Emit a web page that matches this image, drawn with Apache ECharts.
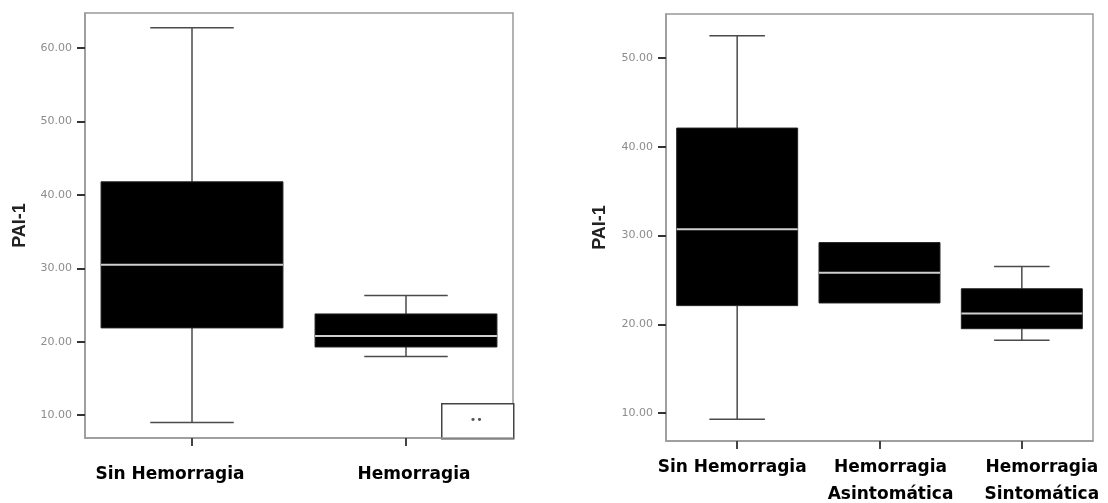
<!DOCTYPE html>
<html>
<head>
<meta charset="utf-8">
<script src="https://cdn.jsdelivr.net/npm/echarts@6/dist/echarts.min.js"></script>
<style>html,body{margin:0;padding:0;background:#fff;}#c{width:1108px;height:503px;}</style>
</head>
<body>
<div id="c"></div>
<script>
// ---- data ----
const leftCategories = ['Sin Hemorragia', 'Hemorragia'];
// [min, Q1, median, Q3, max]
const leftSinHemorragia = [9.0, 21.9, 30.5, 41.8, 62.8];
const leftHemorragia = [18.0, 19.3, 20.8, 23.8, 26.3];

const rightCategories = ['Sin Hemorragia', 'Hemorragia\nAsintomática', 'Hemorragia\nSintomática'];
const rightSinHemorragia = [9.3, 22.1, 30.7, 42.1, 52.5];
const rightAsintomatica = [22.4, 22.4, 25.8, 29.2, 29.2];
const rightSintomatica = [18.2, 19.5, 21.2, 24.0, 26.5];

const leftTicks = [10, 20, 30, 40, 50, 60];
const rightTicks = [10, 20, 30, 40, 50];
const yName = 'PAI-1';

// ---- build ----
const leftData = [leftSinHemorragia, leftHemorragia].map((d, i) => [i].concat(d));
const rightData = [rightSinHemorragia, rightAsintomatica, rightSintomatica].map((d, i) => [i].concat(d));

function renderBox(params, api) {
  const x = api.value(0);
  const lo = api.value(1), q1 = api.value(2), med = api.value(3), q3 = api.value(4), hi = api.value(5);
  const band = api.size([1, 0])[0];
  const bw = band * 0.85, cw = band * 0.39;
  const pLo = api.coord([x, lo]), pQ1 = api.coord([x, q1]), pMed = api.coord([x, med]),
        pQ3 = api.coord([x, q3]), pHi = api.coord([x, hi]);
  const cx = pMed[0];
  const wStyle = { stroke: '#4a4a4a', lineWidth: 1.5 };
  const children = [];
  if (hi > q3) {
    children.push({ type: 'line', shape: { x1: cx, y1: pHi[1], x2: cx, y2: pQ3[1] }, style: wStyle });
    children.push({ type: 'line', shape: { x1: cx - cw / 2, y1: pHi[1], x2: cx + cw / 2, y2: pHi[1] }, style: wStyle });
  }
  if (lo < q1) {
    children.push({ type: 'line', shape: { x1: cx, y1: pQ1[1], x2: cx, y2: pLo[1] }, style: wStyle });
    children.push({ type: 'line', shape: { x1: cx - cw / 2, y1: pLo[1], x2: cx + cw / 2, y2: pLo[1] }, style: wStyle });
  }
  children.push({ type: 'rect', shape: { x: cx - bw / 2, y: pQ3[1], width: bw, height: pQ1[1] - pQ3[1] },
    style: { fill: '#000', stroke: '#222', lineWidth: 1 } });
  children.push({ type: 'line', shape: { x1: cx - bw / 2, y1: pMed[1], x2: cx + bw / 2, y2: pMed[1] },
    style: { stroke: '#cfcfcf', lineWidth: 2 } });
  return { type: 'group', children: children };
}

const yLabel = {
  fontFamily: 'DejaVu Sans', fontSize: 11, color: '#8c8c8c', margin: 13,
  formatter: v => Number(v).toFixed(2)
};
const yTick = { show: true, length: 8, lineStyle: { color: '#333', width: 2 } };
const nameStyle = { fontFamily: 'Liberation Sans', fontWeight: 'bold', fontSize: 18, color: '#222' };

const leftShift = [{ padding: [0, 44, 0, 0] }, { padding: [0, 0, 0, 16] }];
const rightShift = [{ padding: [0, 10, 0, 0] }, { padding: [0, 0, 0, 22] }, { padding: [0, 0, 0, 40] }];

function richFor(shifts, lh) {
  const r = {};
  shifts.forEach((s, i) => {
    r['s' + i] = Object.assign({ fontFamily: 'DejaVu Sans', fontWeight: 'bold', fontSize: 17, color: '#000', lineHeight: lh, align: 'center' }, s);
  });
  return r;
}

const option = {
  animation: false,
  backgroundColor: '#fff',
  grid: [
    { left: 85, top: 13, width: 428, height: 425, show: true, borderColor: '#999', borderWidth: 1.5, backgroundColor: '#fff' },
    { left: 666, top: 14, width: 427, height: 427, show: true, borderColor: '#999', borderWidth: 1.5, backgroundColor: '#fff' }
  ],
  xAxis: [
    {
      type: 'category', gridIndex: 0, data: leftCategories, boundaryGap: true,
      axisLine: { show: true, lineStyle: { color: '#999', width: 1.5 } },
      axisTick: { show: true, alignWithLabel: true, length: 8, lineStyle: { color: '#444', width: 2 } },
      axisLabel: {
        interval: 0, margin: 27,
        formatter: (v, i) => '{s' + i + '|' + v + '}',
        rich: richFor(leftShift, 20)
      }
    },
    {
      type: 'category', gridIndex: 1, data: rightCategories, boundaryGap: true,
      axisLine: { show: true, lineStyle: { color: '#999', width: 1.5 } },
      axisTick: { show: true, alignWithLabel: true, length: 8, lineStyle: { color: '#444', width: 2 } },
      axisLabel: {
        interval: 0, margin: 13,
        formatter: (v, i) => v.split('\n').map(s => '{s' + i + '|' + s + '}').join('\n'),
        rich: richFor(rightShift, 27)
      }
    }
  ],
  yAxis: [
    {
      type: 'value', gridIndex: 0, min: 6.9, max: 64.8,
      splitLine: { show: false },
      axisLine: { show: true, lineStyle: { color: '#999', width: 1.5 } },
      axisTick: Object.assign({ customValues: leftTicks }, yTick),
      axisLabel: Object.assign({ customValues: leftTicks }, yLabel),
      name: yName, nameLocation: 'middle', nameGap: 56, nameRotate: 90, nameTextStyle: nameStyle
    },
    {
      type: 'value', gridIndex: 1, min: 6.85, max: 54.95,
      splitLine: { show: false },
      axisLine: { show: true, lineStyle: { color: '#999', width: 1.5 } },
      axisTick: Object.assign({ customValues: rightTicks }, yTick),
      axisLabel: Object.assign({ customValues: rightTicks }, yLabel),
      name: yName, nameLocation: 'middle', nameGap: 57, nameRotate: 90, nameTextStyle: nameStyle
    }
  ],
  series: [
    { type: 'custom', xAxisIndex: 0, yAxisIndex: 0, renderItem: renderBox, data: leftData,
      encode: { x: 0, y: [1, 2, 3, 4, 5] }, clip: false },
    { type: 'custom', xAxisIndex: 1, yAxisIndex: 1, renderItem: renderBox, data: rightData,
      encode: { x: 0, y: [1, 2, 3, 4, 5] }, clip: false }
  ],
  graphic: [
    { type: 'group', left: 441, top: 403, children: [
      { type: 'rect', shape: { x: 0, y: 0, width: 72, height: 35 }, style: { fill: '#fff', stroke: '#444', lineWidth: 1.5 } },
      { type: 'text', x: 28, y: 11, style: { text: '••', fontSize: 11, fill: '#555', fontFamily: 'DejaVu Sans' } }
    ] }
  ]
};

const chart = echarts.init(document.getElementById('c'), null, { renderer: 'canvas' });
chart.setOption(option);
</script>
</body>
</html>
